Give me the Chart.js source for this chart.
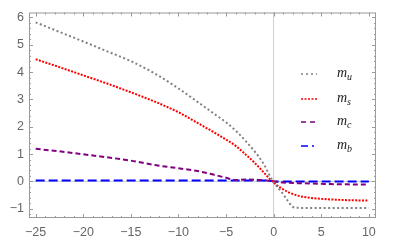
<!DOCTYPE html>
<html>
<head>
<meta charset="utf-8">
<script src="https://cdn.jsdelivr.net/npm/chart.js@4"></script>
<style>
  html, body { margin: 0; padding: 0; background: #fff; }
  #wrap { width: 415px; height: 248px; }
</style>
</head>
<body>
<div id="wrap"><canvas id="massChart"></canvas></div>
<script>
const xs = [-25, -22.5, -20, -17.5, -15, -12.5, -10, -8, -6, -5, -4, -3, -2, -1.5, -1, -0.5, -0.2, 0, 0.5, 1, 1.5, 2, 2.5, 3, 4, 5, 6, 8, 10];
const mU = [5.82, 5.47, 5.12, 4.76, 4.40, 3.95, 3.40, 2.91, 2.41, 2.16, 1.86, 1.50, 1.10, 0.87, 0.61, 0.27, 0.08, -0.03, -0.25, -0.47, -0.72, -0.93, -0.965, -0.97, -0.97, -0.97, -0.97, -0.97, -0.97];
const mS = [4.47, 4.18, 3.88, 3.58, 3.26, 2.92, 2.53, 2.14, 1.74, 1.53, 1.30, 1.00, 0.68, 0.50, 0.31, 0.12, 0.02, -0.04, -0.18, -0.29, -0.39, -0.46, -0.52, -0.56, -0.61, -0.64, -0.66, -0.69, -0.70];
const mC = [1.19, 1.10, 0.99, 0.88, 0.76, 0.60, 0.48, 0.38, 0.22, 0.13, 0.05, 0.07, 0.06, 0.05, 0.04, 0.02, 0.01, 0, -0.02, -0.04, -0.05, -0.06, -0.065, -0.07, -0.08, -0.09, -0.10, -0.11, -0.12];
const mB = [0.03, 0.03, 0.03, 0.03, 0.03, 0.03, 0.03, 0.03, 0.03, 0.03, 0.03, 0.03, 0.03, 0.03, 0.03, 0.02, 0.01, 0, -0.005, -0.005, -0.005, -0.005, -0.005, -0.005, -0.005, -0.005, -0.005, -0.005, -0.005];
const xTicks = [-25, -20, -15, -10, -5, 0, 5, 10];
const yTicks = [-1, 0, 1, 2, 3, 4, 5, 6];
const legendDash = [[2, 3], [2, 1.5], [5, 4], [7, 4, 2, 4]];

function pts(ys) {
  return xs.map((x, i) => ({ x: x, y: ys[i] }));
}

function minus(v) {
  return String(v).replace('-', '\u2212');
}

// Mathematica style frame with inward ticks on all four sides
const frameTicks = {
  id: 'frameTicks',
  afterDatasetsDraw(chart) {
    const { ctx, chartArea: a, scales: { x, y } } = chart;
    ctx.save();
    ctx.strokeStyle = '#9a9a9a';
    ctx.lineWidth = 1;
    ctx.strokeRect(a.left + 0.5, a.top + 0.5, a.right - a.left - 1, a.bottom - a.top - 1);
    ctx.beginPath();
    for (let v = -25; v <= 10; v++) {
      const px = Math.round(x.getPixelForValue(v)) + 0.5;
      const len = v % 5 === 0 ? 4 : 2;
      ctx.moveTo(px, a.bottom); ctx.lineTo(px, a.bottom - len);
      ctx.moveTo(px, a.top); ctx.lineTo(px, a.top + len);
    }
    for (let k = -6; k <= 30; k++) {
      const v = k / 5;
      const py = Math.round(y.getPixelForValue(v)) + 0.5;
      const len = k % 5 === 0 ? 4 : 2;
      ctx.moveTo(a.left, py); ctx.lineTo(a.left + len, py);
      ctx.moveTo(a.right, py); ctx.lineTo(a.right - len, py);
    }
    ctx.stroke();
    ctx.restore();
  }
};

// legend with italic m and subscript
const subLegend = {
  id: 'subLegend',
  afterDraw(chart) {
    const ctx = chart.ctx;
    const rows = [74, 99, 122, 146];
    ctx.save();
    chart.data.datasets.forEach((ds, i) => {
      const yy = rows[i];
      ctx.strokeStyle = ds.borderColor;
      ctx.lineWidth = 1.6;
      ctx.setLineDash(legendDash[i]);
      ctx.beginPath();
      ctx.moveTo(301, yy);
      ctx.lineTo(317, yy);
      ctx.stroke();
      ctx.setLineDash([]);
      const parts = ds.label.split('_');
      ctx.fillStyle = '#222';
      ctx.textBaseline = 'alphabetic';
      ctx.font = 'italic 14px "Liberation Serif", serif';
      ctx.fillText(parts[0], 337, yy + 3);
      const w = ctx.measureText(parts[0]).width;
      ctx.font = 'italic 10px "Liberation Serif", serif';
      ctx.fillText(parts[1], 337 + w, yy + 6);
    });
    ctx.restore();
  }
};

const zeroGrid = (c) => (c.tick && c.tick.value === 0 ? '#d0d0d0' : 'rgba(0,0,0,0)');

const config = {
  type: 'line',
  data: {
    datasets: [
      { label: 'm_u', data: pts(mU), borderColor: '#808080', borderWidth: 2, borderDash: [2, 2.5] },
      { label: 'm_s', data: pts(mS), borderColor: '#ff0000', borderWidth: 2, borderDash: [2, 1.4] },
      { label: 'm_c', data: pts(mC), borderColor: '#800080', borderWidth: 2, borderDash: [5, 3] },
      { label: 'm_b', data: pts(mB), borderColor: '#0000ff', borderWidth: 2, borderDash: [9, 4] }
    ]
  },
  options: {
    responsive: true,
    maintainAspectRatio: false,
    animation: false,
    layout: { padding: { top: 4, right: 39, left: 0, bottom: 0 } },
    elements: {
      point: { radius: 0 },
      line: { cubicInterpolationMode: 'monotone', fill: false }
    },
    plugins: { legend: { display: false }, tooltip: { enabled: false } },
    scales: {
      x: {
        type: 'linear',
        min: -25.7,
        max: 10.75,
        afterBuildTicks: (s) => { s.ticks = xTicks.map(v => ({ value: v })); },
        afterFit: (s) => { s.height = 30; },
        border: { display: false },
        grid: { color: zeroGrid, drawTicks: false, lineWidth: 1 },
        ticks: {
          padding: 7,
          color: '#666',
          font: { family: '"Liberation Sans", Arial, sans-serif', size: 12.5 },
          maxRotation: 0,
          callback: (v) => minus(v)
        }
      },
      y: {
        type: 'linear',
        min: -1.34,
        max: 6.18,
        afterBuildTicks: (s) => { s.ticks = yTicks.map(v => ({ value: v })); },
        afterFit: (s) => { s.width = 29; },
        border: { display: false },
        grid: { color: zeroGrid, drawTicks: false, lineWidth: 1 },
        ticks: {
          padding: 5,
          color: '#666',
          font: { family: '"Liberation Sans", Arial, sans-serif', size: 12.5 },
          callback: (v) => minus(v)
        }
      }
    }
  },
  plugins: [frameTicks, subLegend]
};

const massChart = new Chart(document.getElementById('massChart'), config);
</script>
</body>
</html>
